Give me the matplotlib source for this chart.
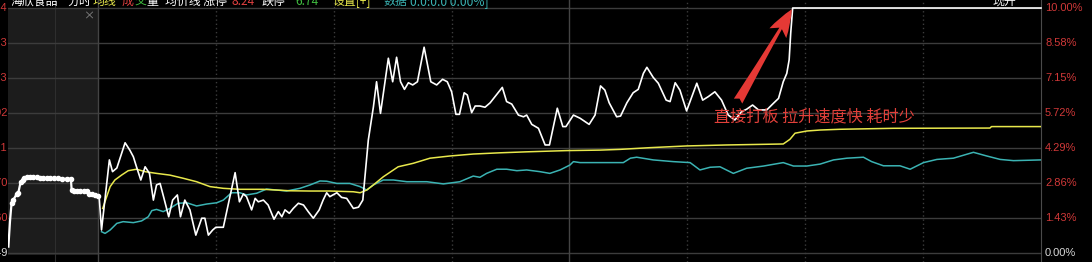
import numpy as np
import matplotlib
matplotlib.use("Agg")
import matplotlib.pyplot as plt
from matplotlib.patches import Rectangle
from matplotlib.transforms import blended_transform_factory

plt.rcParams['font.family'] = ['Noto Sans CJK SC', 'DejaVu Sans']

# ------------------------------------------------------------
# data (minutes after 9:30 open, % change vs previous close 7.49)
# ------------------------------------------------------------
prev_close = 7.49

# call auction (9:15-9:25), shown in the grey panel left of the open
auction_t = [-22.8, -22.4, -22.0, -21.6, -20.7, -20.3, -19.7, -19.2, -18.8, -18.1,
             -17.3, -16.5, -15.6, -14.8, -14.0, -13.1, -12.3, -11.2, -10.1, -9.2,
             -8.0, -6.9, -6.7, -6.0, -5.4, -4.6, -3.6, -2.7, -2.2, -1.5, -0.8, 0.0]
auction_p = [0.26, 1.28, 2.03, 2.16, 2.40, 2.44, 2.89, 2.98, 3.06, 3.09,
             3.09, 3.09, 3.09, 3.06, 3.06, 3.06, 3.05, 3.05, 3.05, 3.03,
             3.03, 3.03, 2.57, 2.55, 2.54, 2.54, 2.52, 2.52, 2.41, 2.41, 2.37, 2.33]

price_t = [0, 0.3, 0.9, 2.9, 3.7, 4.8, 6.9, 8.1, 9.0, 9.8, 10.9, 12.0, 13.1, 14.1, 14.9,
           15.8, 16.8, 18.0, 19.0, 20.2, 21.0, 22.1, 23.4, 24.9, 26.4, 27.2, 28.1, 29.2,
           30.0, 31.9, 33.4, 34.9, 36.0, 37.0, 37.8, 39.1, 40.0, 40.8, 42.1, 43.3, 44.8,
           45.9, 46.8, 47.6, 48.7, 49.7, 51.0, 52.3, 53.5, 54.8, 56.3, 57.3, 58.2, 59.0,
           60.8, 62.0, 63.3, 65.0, 66.3, 67.4, 68.8, 70.1, 70.9, 71.9, 73.9, 75.0, 76.0,
           77.0, 78.0, 79.0, 80.1, 81.3, 83.0, 84.7, 86.2, 87.7, 88.9, 90.0, 91.1, 92.0,
           93.2, 94.0, 95.1, 96.0, 97.2, 98.5, 99.8, 102.9, 104.0, 105.3, 107.0, 108.3,
           109.1, 110.4, 112.1, 113.8, 114.9, 116.9, 118.3, 119.1, 121.0, 122.7, 125.0,
           126.5, 127.9, 129.0, 130.1, 132.0, 133.0, 134.6, 136.2, 137.5, 138.8, 139.7,
           141.3, 142.6, 144.6, 145.6, 146.9, 148.1, 149.8, 152.4, 153.9, 155.3, 157.0,
           158.7, 160.4, 162.1, 163.8, 165.1, 166.6, 168.1, 170.2, 171.9, 173.2, 174.4,
           175.3, 175.9, 176.3, 176.8, 200.0, 240.0]
price_p = [2.37, 2.30, 0.94, 3.80, 3.32, 3.47, 4.50, 4.20, 3.93, 3.52, 2.98, 3.52, 3.25,
           2.16, 2.78, 2.84, 2.23, 1.48, 2.16, 2.37, 1.48, 2.16, 1.76, 0.73, 1.42, 1.42,
           0.73, 0.94, 1.05, 1.05, 2.16, 3.28, 2.09, 2.41, 2.30, 1.76, 2.23, 2.09, 2.16,
           1.96, 1.38, 1.69, 1.48, 1.76, 1.62, 1.82, 2.03, 1.96, 1.69, 1.42, 1.76, 2.16,
           2.46, 2.30, 2.46, 2.27, 2.23, 1.82, 1.87, 2.16, 4.61, 5.97, 6.99, 5.70, 7.95,
           6.99, 7.99, 6.99, 6.68, 6.95, 6.86, 6.99, 8.40, 6.99, 6.86, 7.09, 6.99, 6.58,
           5.66, 5.66, 6.54, 6.45, 5.73, 6.00, 6.00, 5.95, 6.13, 6.76, 6.18, 6.08, 5.63,
           5.56, 5.63, 5.25, 5.09, 4.41, 4.41, 5.91, 5.16, 5.16, 5.63, 5.50, 5.25, 5.63,
           6.82, 6.65, 6.13, 5.56, 5.59, 6.13, 6.54, 6.68, 7.33, 7.58, 7.17, 6.93, 6.24,
           6.18, 6.95, 6.65, 5.80, 6.93, 6.24, 6.38, 6.58, 6.24, 5.63, 5.43, 5.77, 5.87,
           6.04, 5.84, 5.84, 6.11, 6.31, 6.99, 7.33, 7.88, 8.97, 10.0, 10.0, 10.0]

avg_t = [1.2, 3.1, 4.3, 6.0, 7.7, 9.8, 12.0, 14.9, 18.3, 21.7, 25.1, 28.5, 31.9, 36.1,
         42.1, 48.9, 54.0, 59.0, 65.0, 66.7, 68.4, 70.1, 72.6, 76.4, 80.2, 84.5, 89.6,
         95.5, 102.3, 109.1, 119.3, 127.8, 132.9, 140.5, 149.8, 160.0, 174.4, 176.1,
         177.4, 180.4, 183.8, 188.8, 202.4, 227.0, 227.4, 240.0]
avg_p = [1.82, 2.71, 2.98, 3.18, 3.36, 3.42, 3.32, 3.25, 3.18, 3.05, 2.91, 2.71, 2.64, 2.60,
         2.60, 2.54, 2.53, 2.53, 2.50, 2.46, 2.57, 2.78, 3.11, 3.52, 3.66, 3.87, 3.96,
         4.04, 4.09, 4.13, 4.18, 4.20, 4.23, 4.30, 4.37, 4.41, 4.45, 4.64,
         4.89, 4.98, 5.02, 5.05, 5.09, 5.10, 5.16, 5.16]

cyan_t = [0.9, 1.8, 3.1, 4.8, 6.4, 9.0, 11.1, 12.8, 13.7, 14.9, 16.6, 18.3, 20.4, 22.6,
          25.1, 27.7, 30.2, 31.9, 34.0, 36.1, 37.8, 40.4, 42.9, 45.5, 48.0, 51.4, 54.0,
          56.5, 58.2, 60.8, 64.1, 66.7, 68.4, 70.1, 72.6, 75.2, 78.6, 83.7, 87.9, 92.1,
          95.5, 97.2, 98.9, 101.5, 104.0, 106.6, 109.1, 112.5, 115.0, 117.6, 120.1, 121.0,
          122.7, 129.5, 133.7, 135.5, 137.1, 141.3, 146.4, 150.7, 153.2, 155.8, 158.3,
          161.7, 165.1, 169.4, 174.4, 177.0, 180.4, 183.8, 187.2, 190.6, 194.8, 196.9,
          199.9, 204.1, 206.7, 210.1, 213.5, 217.7, 222.8, 226.2, 229.6, 233.0, 240.0]
cyan_p = [0.87, 0.80, 0.94, 1.21, 1.28, 1.24, 1.31, 1.48, 1.73, 1.78, 1.69, 1.82, 2.03, 2.05,
          1.92, 2.00, 2.05, 2.16, 2.46, 2.46, 2.37, 2.44, 2.61, 2.57, 2.53, 2.64, 2.78,
          2.94, 2.93, 2.84, 2.84, 2.71, 2.57, 2.78, 2.98, 2.98, 2.91, 2.91, 2.82, 2.91,
          3.14, 3.09, 3.25, 3.42, 3.42, 3.36, 3.39, 3.32, 3.25, 3.39, 3.59, 3.73,
          3.69, 3.69, 3.69, 3.87, 3.91, 3.80, 3.73, 3.69, 3.39, 3.50, 3.52,
          3.25, 3.46, 3.55, 3.69, 3.55, 3.55, 3.63, 3.80, 3.87, 3.91, 3.73,
          3.56, 3.56, 3.42, 3.69, 3.82, 3.87, 4.11, 3.96, 3.82, 3.77, 3.80]

pct_levels = [0.0, 1.43, 2.86, 4.29, 5.72, 7.15, 8.58, 10.0]
pct_labels = ['0.00%', '1.43%', '2.86%', '4.29%', '5.72%', '7.15%', '8.58%', '10.00%']

note_text = '直接打板 拉升速度快 耗时少'

# ------------------------------------------------------------
# figure
# ------------------------------------------------------------
W, H = 1092, 262
fig = plt.figure(figsize=(W / 100, H / 100), dpi=100, facecolor='black')
ax = fig.add_axes([8 / W, 0, (1041 - 8) / W, 1])
ax.set_facecolor('black')
ax.set_xlim(-22.9, 240)
ax.set_ylim(-0.367, 10.327)
ax.set_xticks([])
ax.set_yticks([])
for s in ['top', 'bottom', 'left']:
    ax.spines[s].set_visible(False)
ax.spines['right'].set_color('#4a4a4a')

# auction panel
ax.add_patch(Rectangle((-22.9, -0.08), 22.9, 10.08, facecolor='#1c1c1c',
                       edgecolor='none', zorder=0))
ax.axvline(-10.9, color='#2e2e2e', lw=0.8, zorder=0.5)

# grid
for lv in pct_levels:
    ax.axhline(lv, color='#3c3c3c', lw=1, zorder=1)
for m in [30, 60, 90, 150, 180, 210]:
    ax.axvline(m, color='#3c3c3c', lw=1, ls=(0, (1, 2)), zorder=1)
for m in [0, 120]:
    ax.axvline(m, color='#444444', lw=1, zorder=1)

# lines
ax.plot(cyan_t, cyan_p, color='#3bb3b3', lw=1.1, zorder=3)
ax.plot(avg_t, avg_p, color='#e8e84c', lw=1.1, zorder=3)
ax.plot(price_t, price_p, color='white', lw=1.2, zorder=4, clip_on=False)
ax.plot(auction_t, auction_p, color='white', lw=1.6, zorder=4)
ax.plot(auction_t[2:], auction_p[2:], 'o', color='white', ms=3, zorder=4)

# annotation
ax.annotate('', xy=(176.6, 9.95), xytext=(162.9, 6.2),
            arrowprops=dict(arrowstyle='fancy,head_length=1.0,head_width=0.7,tail_width=0.35',
                            color='#e53935', lw=0, mutation_scale=20, shrinkA=0, shrinkB=0),
            zorder=5)
ax.text(182.2, 5.55, note_text, color='#e2403a', fontsize=11.6,
        ha='center', va='center', zorder=5)

# right axis labels
tr = blended_transform_factory(ax.transAxes, ax.transData)
for lv, lab in zip(pct_levels, pct_labels):
    col = '#d8d8d8' if lv == 0 else '#d03838'
    ax.text(1 + 4 / 1033, lv, lab, transform=tr, color=col, fontsize=8,
            family=['Liberation Sans', 'DejaVu Sans'], ha='left', va='center',
            clip_on=False)

# left price labels (cut off at the image edge, as in the terminal screenshot)
for lv in pct_levels:
    price = prev_close * (1 + lv / 100)
    col = '#d8d8d8' if lv == 0 else '#d03838'
    ax.text(-1 / 1033 * 0.5, lv, f'{price:.2f}', transform=tr, color=col, fontsize=8,
            family=['Liberation Sans', 'DejaVu Sans'], ha='right', va='center',
            clip_on=False)

# close mark of the auction panel
fig.text(89 / W, (H - 16) / H, '×', color='#8a8a8a', fontsize=8, ha='center', va='center')

# header (partly cut by the top edge)
hy = (H - 5) / H
header = [(10, '海欣食品', 'white'), (67, '分时', 'white'), (93, '均线', '#e8e84c'),
          (122, '成', '#e04040'), (134, '交', '#40c040'), (146, '量', 'white'),
          (165, '均价线 涨停', 'white'), (232, '8.24', '#e04040'), (262, '跌停', 'white'),
          (295, '6.74', '#40c040'), (332, '设置[+]', '#e8e84c'), (383, '数据', '#3bb3b3'),
          (410, '0.0:0.0 0.00%]', '#3bb3b3'), (992, '现开', 'white')]
for x, s, c in header:
    fig.text(x / W, hy, s, color=c, fontsize=8.6, ha='left', va='baseline')

fig.savefig('out.png', dpi=100, facecolor='black')
